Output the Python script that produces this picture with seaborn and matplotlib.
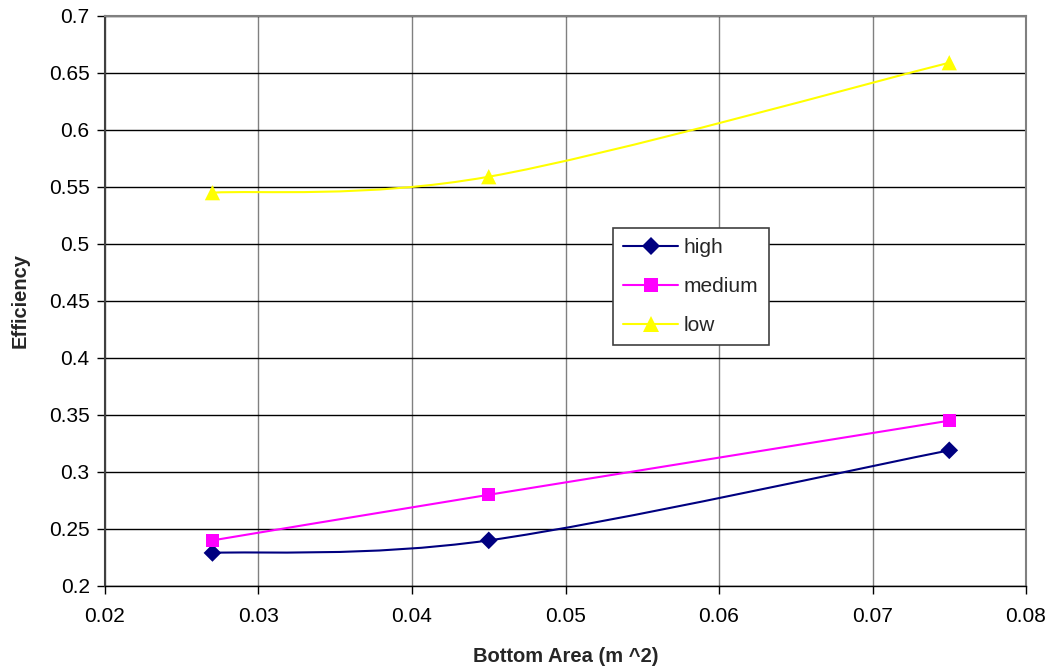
import pandas as pd
import matplotlib
matplotlib.use("Agg")
import matplotlib.pyplot as plt
from matplotlib.path import Path
from matplotlib.patches import PathPatch
from matplotlib.lines import Line2D
import seaborn as sns

# Data
area = [0.027, 0.045, 0.075]
high = [0.229, 0.240, 0.319]
medium = [0.240, 0.280, 0.345]
low = [0.545, 0.559, 0.659]

series_names = ["high", "medium", "low"]
x_ticks = [0.02, 0.03, 0.04, 0.05, 0.06, 0.07, 0.08]
x_labels = ["0.02", "0.03", "0.04", "0.05", "0.06", "0.07", "0.08"]
y_ticks = [0.2, 0.25, 0.3, 0.35, 0.4, 0.45, 0.5, 0.55, 0.6, 0.65, 0.7]
y_labels = ["0.2", "0.25", "0.3", "0.35", "0.4", "0.45", "0.5", "0.55", "0.6", "0.65", "0.7"]

colors = {"high": "#000080", "medium": "#FF00FF", "low": "#FFFF00"}
markers = {"high": "D", "medium": "s", "low": "^"}
msizes = {"high": 9, "medium": 9.5, "low": 11}

df = pd.DataFrame({
    "area": area * 3,
    "eff": high + medium + low,
    "serie": ["high"] * 3 + ["medium"] * 3 + ["low"] * 3,
})

sns.set_theme(style="white")
plt.rcParams["font.family"] = ["Liberation Sans", "DejaVu Sans"]

fig = plt.figure(figsize=(10.52, 6.71), dpi=100)
ax = fig.add_axes([0.0998, 0.1267, 0.8755, 0.8495])


def smooth_path(xs, ys):
    # Excel-like smoothed line: cubic Bezier segments (Catmull-Rom control points)
    pts = list(zip(xs, ys))
    verts = [pts[0]]
    codes = [Path.MOVETO]
    n = len(pts)
    for i in range(n - 1):
        p0 = pts[i - 1] if i > 0 else pts[i]
        p1 = pts[i]
        p2 = pts[i + 1]
        p3 = pts[i + 2] if i + 2 < n else pts[i + 1]
        c1 = (p1[0] + (p2[0] - p0[0]) / 6, p1[1] + (p2[1] - p0[1]) / 6)
        c2 = (p2[0] - (p3[0] - p1[0]) / 6, p2[1] - (p3[1] - p1[1]) / 6)
        verts += [c1, c2, p2]
        codes += [Path.CURVE4] * 3
    return Path(verts, codes)


for name in series_names:
    sub = df[df["serie"] == name]
    patch = PathPatch(smooth_path(sub["area"].tolist(), sub["eff"].tolist()),
                      facecolor="none", edgecolor=colors[name], lw=1.5, zorder=3)
    ax.add_patch(patch)
    sns.scatterplot(data=sub, x="area", y="eff", marker=markers[name],
                    color=colors[name], s=msizes[name] ** 2, edgecolor="none",
                    linewidth=0, ax=ax, zorder=4, legend=False)

ax.set_xlim(0.02, 0.08)
ax.set_ylim(0.2, 0.7)
ax.set_xticks(x_ticks)
ax.set_xticklabels(x_labels)
ax.set_yticks(y_ticks)
ax.set_yticklabels(y_labels)
ax.tick_params(axis="both", labelsize=15, colors="black", direction="out",
               length=6, width=1, bottom=True, left=True)
ax.tick_params(axis="x", pad=9)
ax.tick_params(axis="y", pad=5)
ax.xaxis.grid(True, color="#808080", lw=1)
ax.yaxis.grid(True, color="black", lw=1)
ax.set_axisbelow(True)

for side in ["top", "right"]:
    ax.spines[side].set_color("#808080")
    ax.spines[side].set_linewidth(1.5)
ax.spines["left"].set_color("#404040")
ax.spines["left"].set_linewidth(1.5)
ax.spines["bottom"].set_color("black")
ax.spines["bottom"].set_linewidth(1)

ax.set_xlabel("Bottom Area (m ^2)", fontsize=14.5, fontweight="bold", labelpad=15)
ax.set_ylabel("Efficiency", fontsize=14.5, fontweight="bold", labelpad=14)

handles = [Line2D([0], [0], color=colors[n], lw=1.5, marker=markers[n],
                  markersize=msizes[n], markeredgewidth=0) for n in series_names]
leg = ax.legend(handles, series_names, loc="upper left",
                bbox_to_anchor=(0.5516, 0.628), fontsize=15, frameon=True,
                fancybox=False, edgecolor="#404040", framealpha=1,
                handlelength=2.6, labelspacing=0.95, borderpad=0.5,
                handletextpad=0.3, borderaxespad=0)
leg.get_frame().set_linewidth(1.2)

plt.savefig("out.png", dpi=100)
print("saved out.png")
